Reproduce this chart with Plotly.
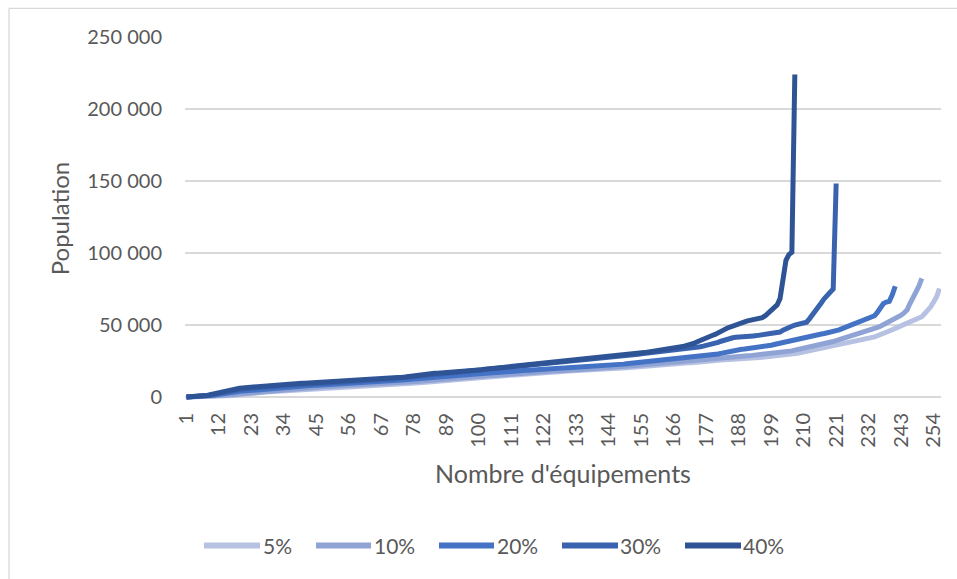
import plotly.graph_objects as go

# Population served, sorted ascending, for each coverage threshold
pop_5 = [
    20, 40, 60, 90, 120, 150, 180, 220, 270, 320,
    380, 440, 500, 600, 700, 900, 1100, 1400, 1700, 2000,
    2300, 2600, 2900, 3100, 3300, 3500, 3600, 3700, 3800, 3900,
    4000, 4100, 4200, 4400, 4500, 4700, 4800, 5000, 5100, 5300,
    5400, 5500, 5600, 5700, 5800, 5900, 6000, 6100, 6200, 6300,
    6400, 6500, 6600, 6700, 6800, 6900, 7000, 7100, 7200, 7300,
    7400, 7500, 7600, 7700, 7700, 7800, 7800, 7900, 7900, 8000,
    8100, 8300, 8500, 8700, 8900, 9100, 9300, 9500, 9700, 9900,
    10100, 10300, 10500, 10700, 10900, 11100, 11200, 11400, 11600, 11800,
    11900, 12100, 12300, 12400, 12600, 12800, 12900, 13100, 13300, 13400,
    13600, 13800, 13900, 14100, 14300, 14400, 14600, 14800, 14900, 15100,
    15300, 15400, 15600, 15800, 15900, 16100, 16300, 16400, 16600, 16800,
    16900, 17100, 17200, 17400, 17500, 17600, 17700, 17800, 17900, 18000,
    18100, 18200, 18300, 18300, 18400, 18400, 18500, 18500, 18600, 18600,
    18700, 18800, 19000, 19200, 19400, 19600, 19800, 20000, 20200, 20400,
    20600, 20800, 21000, 21200, 21400, 21600, 21800, 22000, 22200, 22300,
    22500, 22700, 22800, 23000, 23100, 23300, 23400, 23500, 23600, 23700,
    23800, 23900, 24000, 24100, 24200, 24400, 24600, 24800, 25100, 25400,
    25600, 25800, 26000, 26100, 26300, 26400, 26500, 26600, 26800, 26900,
    27000, 27100, 27200, 27300, 27500, 27600, 27800, 27900, 28100, 28300,
    28400, 28600, 28800, 29100, 29400, 29700, 30100, 30500, 30900, 31300,
    31700, 32100, 32600, 33000, 33400, 33800, 34300, 34700, 35100, 35500,
    35900, 36300, 36700, 37200, 37600, 38000, 38400, 38800, 39300, 39800,
    40300, 40800, 41300, 41800, 42600, 43300, 44100, 45000, 45900, 46800,
    47700, 48600, 49400, 50300, 51100, 52000, 52900, 53800, 54600, 55800,
    58000, 60000, 62700, 66000, 69600, 75400,
]

pop_10 = [
    30, 60, 100, 140, 180, 220, 280, 380, 500, 650,
    800, 950, 1100, 1300, 1500, 1700, 1900, 2100, 2300, 2500,
    2700, 2900, 3100, 3300, 3500, 3700, 3900, 4100, 4300, 4500,
    4700, 4900, 5100, 5300, 5500, 5600, 5800, 5900, 6100, 6200,
    6400, 6500, 6700, 6800, 7000, 7100, 7200, 7300, 7400, 7500,
    7600, 7700, 7800, 7900, 8000, 8100, 8200, 8300, 8400, 8500,
    8600, 8700, 8700, 8800, 8800, 8900, 8900, 9000, 9000, 9100,
    9200, 9400, 9600, 9800, 10000, 10200, 10400, 10600, 10800, 11000,
    11200, 11400, 11600, 11800, 12000, 12100, 12300, 12500, 12600, 12800,
    12900, 13100, 13300, 13400, 13600, 13700, 13900, 14000, 14200, 14300,
    14500, 14600, 14800, 14900, 15100, 15200, 15400, 15500, 15700, 15800,
    16000, 16100, 16300, 16400, 16600, 16700, 16900, 17000, 17200, 17300,
    17500, 17600, 17800, 17900, 18100, 18200, 18400, 18500, 18700, 18800,
    18900, 19000, 19100, 19200, 19300, 19400, 19500, 19600, 19700, 19700,
    19800, 19900, 20000, 20100, 20300, 20500, 20700, 20900, 21100, 21300,
    21500, 21700, 21900, 22100, 22300, 22500, 22700, 22900, 23100, 23300,
    23500, 23700, 23900, 24100, 24300, 24500, 24700, 24900, 25100, 25300,
    25400, 25500, 25600, 25700, 25800, 25900, 26100, 26300, 26400, 26500,
    26700, 26900, 27100, 27300, 27500, 27700, 27900, 28100, 28300, 28500,
    28700, 28800, 29000, 29100, 29200, 29400, 29500, 29800, 30100, 30300,
    30500, 30800, 31100, 31500, 31800, 32100, 32600, 33000, 33400, 33800,
    34200, 34500, 34900, 35400, 35900, 36400, 36900, 37400, 38000, 38600,
    39200, 39800, 40500, 41400, 42100, 42800, 43500, 44200, 44800, 45300,
    45800, 46300, 46900, 47600, 48400, 49200, 50200, 51200, 52300, 53400,
    54500, 55700, 56900, 58500, 60400, 65000, 69000, 72000, 77000, 82400,
]

pop_20 = [
    40, 80, 130, 180, 240, 300, 400, 600, 900, 1200,
    1600, 2000, 2300, 2600, 2800, 3100, 3400, 3700, 4000, 4200,
    4400, 4600, 4800, 5000, 5200, 5400, 5600, 5800, 6000, 6200,
    6400, 6600, 6800, 7000, 7100, 7300, 7400, 7600, 7700, 7800,
    7900, 8000, 8100, 8200, 8300, 8400, 8500, 8600, 8700, 8800,
    8900, 9000, 9200, 9300, 9500, 9600, 9800, 9900, 10100, 10200,
    10300, 10400, 10500, 10600, 10700, 10800, 10900, 11000, 11100, 11200,
    11400, 11500, 11700, 11900, 12100, 12300, 12500, 12700, 12900, 13100,
    13300, 13500, 13600, 13800, 13900, 14100, 14200, 14400, 14500, 14700,
    14800, 15000, 15100, 15300, 15400, 15600, 15700, 15900, 16000, 16200,
    16300, 16500, 16600, 16800, 16900, 17100, 17200, 17400, 17500, 17700,
    17800, 18000, 18100, 18300, 18400, 18600, 18700, 18900, 19000, 19200,
    19300, 19500, 19600, 19700, 19900, 20000, 20100, 20200, 20300, 20400,
    20500, 20600, 20700, 20800, 20900, 21000, 21000, 21100, 21100, 21200,
    21300, 21500, 21700, 21900, 22100, 22300, 22500, 22700, 22900, 23100,
    23300, 23500, 23700, 23900, 24100, 24300, 24500, 24700, 24900, 25100,
    25300, 25500, 25700, 25900, 26100, 26300, 26500, 26700, 26900, 27100,
    27300, 27500, 27700, 28000, 28200, 28400, 28600, 28900, 29200, 29500,
    29900, 30400, 30900, 31400, 31800, 32200, 32600, 32900, 33200, 33400,
    33600, 33800, 34000, 34200, 34500, 34800, 35200, 35600, 36000, 36500,
    37000, 37600, 38100, 38600, 39100, 39600, 40100, 40600, 41100, 41500,
    41800, 42200, 42600, 43000, 43400, 43800, 44200, 44600, 45000, 45500,
    46000, 46700, 47500, 48300, 49100, 49900, 50700, 51300, 51900, 52500,
    53200, 54000, 55000, 56500, 59000, 62500, 65000, 66000, 66500, 71000,
    77000,
]

pop_30 = [
    60, 120, 190, 260, 340, 420, 600, 900, 1300, 1700,
    2200, 2700, 3200, 3700, 4100, 4500, 4800, 5100, 5400, 5700,
    5900, 6100, 6300, 6500, 6700, 6900, 7100, 7200, 7300, 7400,
    7600, 7700, 7900, 8000, 8200, 8300, 8500, 8600, 8700, 8800,
    8900, 9000, 9100, 9200, 9300, 9400, 9500, 9600, 9700, 9800,
    9900, 10000, 10200, 10300, 10400, 10500, 10700, 10800, 10900, 11000,
    11100, 11200, 11400, 11500, 11700, 11800, 12000, 12200, 12400, 12600,
    12800, 13000, 13200, 13400, 13600, 13800, 14100, 14400, 14600, 14800,
    15000, 15200, 15400, 15600, 15800, 15900, 16100, 16300, 16400, 16600,
    16700, 16900, 17000, 17200, 17400, 17500, 17700, 17900, 18100, 18300,
    18500, 18700, 18900, 19100, 19300, 19500, 19700, 19900, 20100, 20300,
    20600, 20800, 21000, 21200, 21400, 21600, 21800, 22000, 22200, 22400,
    22600, 22800, 23000, 23200, 23400, 23600, 23800, 24000, 24200, 24400,
    24600, 24800, 25000, 25200, 25300, 25500, 25600, 25800, 26000, 26200,
    26400, 26600, 26800, 27000, 27200, 27400, 27700, 28000, 28300, 28600,
    28900, 29200, 29500, 29800, 30100, 30300, 30600, 30800, 31000, 31200,
    31400, 31600, 31800, 32100, 32400, 32600, 32900, 33200, 33500, 33700,
    34000, 34200, 34400, 34700, 35000, 35400, 35800, 36300, 36800, 37300,
    38000, 38800, 39600, 40300, 40800, 41200, 41500, 41800, 42000, 42200,
    42300, 42400, 42500, 42700, 43000, 43300, 43600, 44000, 44300, 44500,
    44700, 45200, 46500, 47700, 48500, 49200, 50000, 50500, 51000, 51500,
    52000, 54500, 57000, 60000, 62700, 65500, 68500, 70800, 73100, 75000,
    148300,
]

pop_40 = [
    80, 150, 230, 310, 420, 520, 800, 1200, 1700, 2200,
    2800, 3400, 3900, 4400, 4900, 5300, 5600, 5800, 6100, 6400,
    6600, 6800, 7000, 7200, 7400, 7600, 7800, 7900, 8000, 8100,
    8300, 8400, 8600, 8700, 8900, 9000, 9200, 9300, 9500, 9600,
    9700, 9800, 9800, 9900, 10000, 10100, 10200, 10300, 10500, 10600,
    10700, 10800, 11000, 11100, 11300, 11400, 11500, 11700, 11800, 11900,
    12000, 12100, 12200, 12300, 12400, 12500, 12600, 12700, 12900, 13100,
    13300, 13500, 13700, 13800, 14000, 14300, 14700, 15100, 15400, 15600,
    15800, 16000, 16200, 16400, 16500, 16600, 16700, 16800, 16900, 17100,
    17200, 17300, 17500, 17600, 17800, 17900, 18100, 18300, 18500, 18700,
    19000, 19300, 19500, 19700, 19900, 20100, 20300, 20400, 20700, 21000,
    21300, 21600, 22000, 22300, 22500, 22700, 22900, 23100, 23400, 23600,
    23800, 24000, 24200, 24400, 24600, 24800, 25000, 25100, 25300, 25500,
    25700, 25800, 26000, 26200, 26400, 26500, 26800, 26900, 27100, 27200,
    27400, 27500, 27700, 27900, 28000, 28200, 28400, 28600, 28900, 29100,
    29400, 29700, 30000, 30300, 30600, 30900, 31200, 31600, 31900, 32200,
    32600, 33000, 33300, 33600, 33900, 34200, 34500, 34800, 35100, 35500,
    36000, 36500, 37400, 38500, 39500, 40500, 41300, 42000, 42800, 43500,
    44300, 45500, 46700, 47800, 48700, 49300, 49700, 50500, 51500, 52300,
    52900, 53300, 53700, 54000, 54300, 55200, 56500, 58200, 59800, 61700,
    64000, 68400, 85000, 95000, 99000, 100600, 224000,
]

series_names = ["5%", "10%", "20%", "30%", "40%"]
series_values = [pop_5, pop_10, pop_20, pop_30, pop_40]
series_colors = ["#B7C2E3", "#8FA3D5", "#4472C4", "#3A63AF", "#2F5496"]

n_categories = 256
x_tick_vals = list(range(1, n_categories + 1, 11))
y_tick_vals = [0, 50000, 100000, 150000, 200000, 250000]
y_tick_text = ["0", "50 000", "100 000", "150 000", "200 000", "250 000"]

FONT = "Lato, 'Open Sans', sans-serif"
TEXT = "#595959"
GRID = "#D9D9D9"

W, H = 957, 579
PLOT_L, PLOT_R = 185, 941
PLOT_T = 36.7
Y_MIN, Y_MAX = -2000, 250000
px_per_unit = (396.7 - PLOT_T) / 250000
PLOT_B = 396.7 - Y_MIN * px_per_unit

fig = go.Figure()
for name, vals, color in zip(series_names, series_values, series_colors):
    fig.add_trace(go.Scatter(
        x=list(range(1, len(vals) + 1)),
        y=vals,
        mode="lines",
        name=name,
        line=dict(color=color, width=5),
        showlegend=False,
        hoverinfo="x+y+name",
    ))


def px_x(px):
    return (px - PLOT_L) / (PLOT_R - PLOT_L)


def px_y(py):
    return (PLOT_B - py) / (PLOT_B - PLOT_T)


shapes = [
    # outer chart frame (top and left edges visible)
    dict(type="line", xref="paper", yref="paper",
         x0=px_x(9), x1=px_x(960), y0=px_y(8), y1=px_y(8),
         line=dict(color=GRID, width=1.3)),
    dict(type="line", xref="paper", yref="paper",
         x0=px_x(9), x1=px_x(9), y0=px_y(8), y1=px_y(585),
         line=dict(color=GRID, width=1.3)),
]

# legend drawn as line samples + labels along the bottom
legend_y = 545
legend_items = [(204, 260, 261), (316, 371, 372), (439, 494, 495), (562, 618, 618), (685, 741, 741)]
annotations = []
for (x0, x1, xt), name, color in zip(legend_items, series_names, series_colors):
    shapes.append(dict(type="line", xref="paper", yref="paper",
                       x0=px_x(x0), x1=px_x(x1), y0=px_y(legend_y), y1=px_y(legend_y),
                       line=dict(color=color, width=6)))
    annotations.append(dict(xref="paper", yref="paper", x=px_x(xt), y=px_y(legend_y),
                            text=name, showarrow=False, xanchor="left", yanchor="middle",
                            font=dict(family=FONT, size=21, color=TEXT)))

fig.update_layout(
    width=W, height=H,
    margin=dict(l=PLOT_L, r=W - PLOT_R, t=PLOT_T, b=H - PLOT_B, pad=0),
    paper_bgcolor="white",
    plot_bgcolor="white",
    font=dict(family=FONT, color=TEXT),
    shapes=shapes,
    annotations=annotations,
    xaxis=dict(
        range=[0.5, n_categories + 0.5],
        tickmode="array",
        tickvals=x_tick_vals,
        ticktext=[str(v) for v in x_tick_vals],
        tickangle=-90,
        tickfont=dict(family=FONT, size=20, color=TEXT),
        showgrid=False,
        zeroline=False,
        showline=False,
        ticks="",
        ticklabelstandoff=8,
        title=dict(text="Nombre d'équipements", font=dict(family=FONT, size=25, color=TEXT), standoff=18),
        automargin=False,
    ),
    yaxis=dict(
        range=[Y_MIN, Y_MAX],
        tickmode="array",
        tickvals=y_tick_vals,
        ticktext=y_tick_text,
        tickfont=dict(family=FONT, size=20, color=TEXT),
        showgrid=True,
        gridcolor=GRID,
        gridwidth=1.8,
        zeroline=False,
        showline=False,
        ticks="",
        ticklabelstandoff=22,
        title=dict(text="Population", font=dict(family=FONT, size=24, color=TEXT), standoff=10),
        automargin=False,
    ),
)

fig.write_html("out.html")
